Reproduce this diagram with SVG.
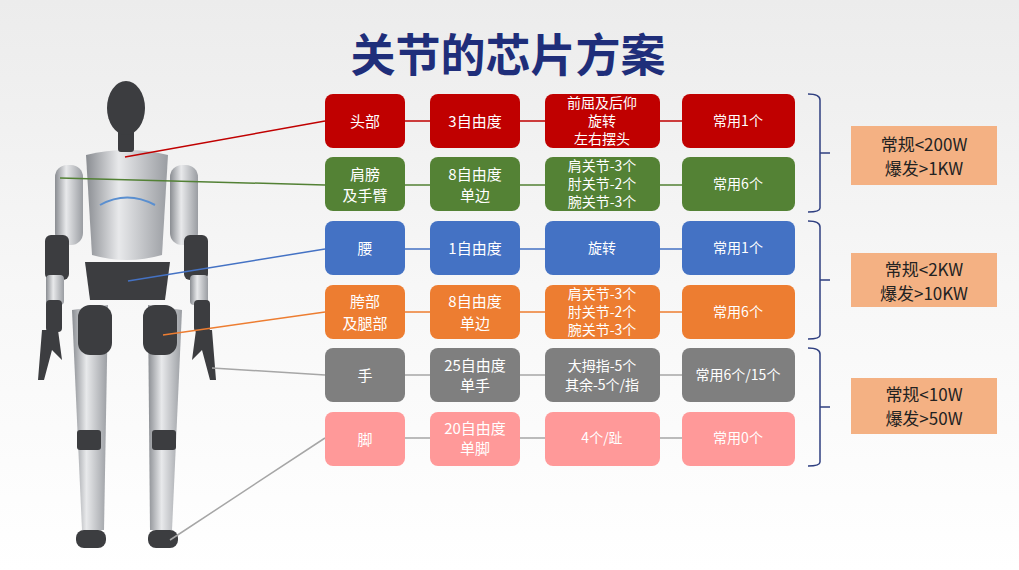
<svg xmlns="http://www.w3.org/2000/svg" width="1019" height="570" viewBox="0 0 1019 570">
<defs>
<linearGradient id="bg" x1="0" y1="0" x2="0" y2="1"><stop offset="0" stop-color="#ececec"/><stop offset="0.5" stop-color="#f7f7f7"/><stop offset="1" stop-color="#ffffff"/></linearGradient>
<linearGradient id="sil" x1="0" y1="0" x2="1" y2="0"><stop offset="0" stop-color="#8a8d92"/><stop offset="0.4" stop-color="#e8e9eb"/><stop offset="1" stop-color="#9a9da2"/></linearGradient>
</defs>
<style>
.t{font-family:"Noto Sans CJK SC","Liberation Sans",sans-serif;fill:#fff;font-size:15px;text-anchor:middle}
.s{font-size:14px}
.r{font-family:"Noto Sans CJK SC","Liberation Sans",sans-serif;fill:#222;font-size:17px;text-anchor:middle}
.dk{fill:#3c3d40}.sv{fill:url(#sil)}
.br{fill:none;stroke:#2f3f80;stroke-width:1.5}
</style>
<rect width="1019" height="570" fill="url(#bg)"/>
<text x="508" y="72" font-family="Noto Sans CJK SC,sans-serif" font-weight="bold" font-size="45" fill="#1f2e7a" text-anchor="middle">关节的芯片方案</text>
<g id="robot">
<rect class="dk" x="76" y="530" width="30" height="18" rx="8"/><rect class="dk" x="148" y="530" width="30" height="18" rx="8"/>
<path class="sv" d="M72 310 L108 305 L104 530 L82 530 Z"/><path class="sv" d="M148 305 L182 310 L172 530 L150 530 Z"/>
<rect class="dk" x="77" y="430" width="24" height="20" rx="3"/><rect class="dk" x="152" y="430" width="24" height="20" rx="3"/>
<rect class="dk" x="78" y="305" width="34" height="50" rx="12"/><rect class="dk" x="143" y="305" width="34" height="50" rx="12"/>
<path class="dk" d="M85 262 L170 262 L165 300 L90 300 Z"/>
<path class="sv" d="M86 155 Q127 145 168 155 L162 255 Q127 265 92 255 Z"/>
<path d="M100 205 Q127 190 155 205" fill="none" stroke="#5a8fd0" stroke-width="2"/>
<rect class="sv" x="55" y="165" width="28" height="80" rx="12"/><rect class="sv" x="170" y="165" width="28" height="80" rx="12"/>
<rect class="dk" x="45" y="235" width="24" height="45" rx="6"/><rect class="dk" x="184" y="235" width="24" height="45" rx="6"/>
<rect class="sv" x="46" y="275" width="18" height="30" rx="4"/><rect class="sv" x="190" y="275" width="18" height="30" rx="4"/>
<path class="dk" d="M42 330 L58 330 L62 360 L52 350 L44 380 L38 380 Z"/><path class="dk" d="M196 330 L212 330 L216 380 L210 380 L202 350 L192 360 Z"/>
<rect class="dk" x="46" y="300" width="16" height="32" rx="4"/><rect class="dk" x="194" y="300" width="16" height="32" rx="4"/>
<rect class="dk" x="118" y="128" width="16" height="24" rx="3"/>
<ellipse class="dk" cx="126" cy="108" rx="19" ry="27"/>
</g>
<g id="connectors" fill="none" stroke-width="1.5">
<path d="M125 157 L325 121 M405 121 H430 M520 121 H545 M660 121 H682" stroke="#c00000"/>
<path d="M60 178 L325 185 M405 185 H430 M520 185 H545 M660 185 H682" stroke="#538135"/>
<path d="M128 281 L325 249 M405 249 H430 M520 249 H545 M660 249 H682" stroke="#4472c4"/>
<path d="M163 335 L325 312 M405 312 H430 M520 312 H545 M660 312 H682" stroke="#ed7d31"/>
<path d="M212 368 L325 375 M405 375 H430 M520 375 H545 M660 375 H682" stroke="#a6a6a6"/>
<path d="M170 540 L325 438 M405 438 H430 M520 438 H545 M660 438 H682" stroke="#a6a6a6"/>
</g>
<g id="row-head" fill="#c00000">
<rect x="325" y="94" width="80" height="54" rx="8"/><rect x="430" y="94" width="90" height="54" rx="8"/><rect x="545" y="94" width="115" height="54" rx="8"/><rect x="682" y="94" width="113" height="54" rx="8"/>
<text class="t" x="365" y="127">头部</text><text class="t" x="475" y="127">3自由度</text>
<text class="t s" x="602" y="108">前屈及后仰</text><text class="t s" x="602" y="126">旋转</text><text class="t s" x="602" y="144">左右摆头</text>
<text class="t s" x="738" y="126">常用1个</text>
</g>
<g id="row-arm" fill="#548235">
<rect x="325" y="157" width="80" height="54" rx="8"/><rect x="430" y="157" width="90" height="54" rx="8"/><rect x="545" y="157" width="115" height="54" rx="8"/><rect x="682" y="157" width="113" height="54" rx="8"/>
<text class="t" x="365" y="180">肩膀</text><text class="t" x="365" y="201">及手臂</text><text class="t" x="475" y="180">8自由度</text><text class="t" x="475" y="201">单边</text>
<text class="t s" x="602" y="171">肩关节-3个</text><text class="t s" x="602" y="189">肘关节-2个</text><text class="t s" x="602" y="207">腕关节-3个</text>
<text class="t s" x="738" y="189">常用6个</text>
</g>
<g id="row-waist" fill="#4472c4">
<rect x="325" y="221" width="80" height="54" rx="8"/><rect x="430" y="221" width="90" height="54" rx="8"/><rect x="545" y="221" width="115" height="54" rx="8"/><rect x="682" y="221" width="113" height="54" rx="8"/>
<text class="t" x="365" y="254">腰</text><text class="t" x="475" y="254">1自由度</text><text class="t s" x="602" y="253">旋转</text><text class="t s" x="738" y="253">常用1个</text>
</g>
<g id="row-hip" fill="#ed7d31">
<rect x="325" y="285" width="80" height="54" rx="8"/><rect x="430" y="285" width="90" height="54" rx="8"/><rect x="545" y="285" width="115" height="54" rx="8"/><rect x="682" y="285" width="113" height="54" rx="8"/>
<text class="t" x="365" y="307">胯部</text><text class="t" x="365" y="329">及腿部</text><text class="t" x="475" y="307">8自由度</text><text class="t" x="475" y="329">单边</text>
<text class="t s" x="602" y="299">肩关节-3个</text><text class="t s" x="602" y="317">肘关节-2个</text><text class="t s" x="602" y="335">腕关节-3个</text>
<text class="t s" x="738" y="317">常用6个</text>
</g>
<g id="row-hand" fill="#7f7f7f">
<rect x="325" y="348" width="80" height="54" rx="8"/><rect x="430" y="348" width="90" height="54" rx="8"/><rect x="545" y="348" width="115" height="54" rx="8"/><rect x="682" y="348" width="113" height="54" rx="8"/>
<text class="t" x="365" y="381">手</text><text class="t" x="475" y="371">25自由度</text><text class="t" x="475" y="391">单手</text>
<text class="t s" x="602" y="371">大拇指-5个</text><text class="t s" x="602" y="390">其余-5个/指</text><text class="t s" x="738" y="380">常用6个/15个</text>
</g>
<g id="row-foot" fill="#ff9999">
<rect x="325" y="412" width="80" height="54" rx="8"/><rect x="430" y="412" width="90" height="54" rx="8"/><rect x="545" y="412" width="115" height="54" rx="8"/><rect x="682" y="412" width="113" height="54" rx="8"/>
<text class="t" x="365" y="445">脚</text><text class="t" x="475" y="434">20自由度</text><text class="t" x="475" y="454">单脚</text>
<text class="t s" x="602" y="443">4个/趾</text><text class="t s" x="738" y="443">常用0个</text>
</g>
<g id="brackets">
<path class="br" d="M808 94 Q820 94 820 100 L820 208 Q820 212 808 212 M820 153 H830"/>
<path class="br" d="M808 221 Q820 221 820 227 L820 335 Q820 339 808 339 M820 280 H830"/>
<path class="br" d="M808 348 Q820 348 820 354 L820 462 Q820 466 808 466 M820 407 H830"/>
</g>
<g id="power" fill="#f4b183">
<rect x="851" y="126" width="146" height="59"/><text class="r" x="924" y="151">常规&lt;200W</text><text class="r" x="924" y="175">爆发&gt;1KW</text>
<rect x="851" y="253" width="146" height="54"/><text class="r" x="924" y="276">常规&lt;2KW</text><text class="r" x="924" y="300">爆发&gt;10KW</text>
<rect x="851" y="378" width="146" height="56"/><text class="r" x="924" y="401">常规&lt;10W</text><text class="r" x="924" y="425">爆发&gt;50W</text>
</g>
</svg>
